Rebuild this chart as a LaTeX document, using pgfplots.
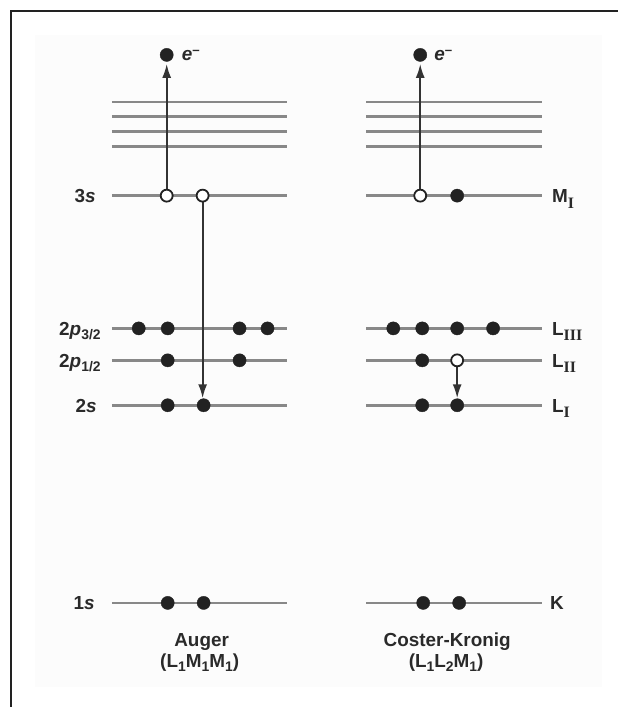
\documentclass[border=0pt]{standalone}
\usepackage{pgfplots}
\pgfplotsset{compat=1.18}
\usetikzlibrary{arrows.meta}
\usepackage{fontspec}
\setmainfont{Liberation Sans}
\newfontfamily\romfont{Liberation Serif}
\definecolor{lvl}{HTML}{888888}
\definecolor{ink}{HTML}{222222}
\definecolor{arr}{HTML}{333333}
\definecolor{txt}{HTML}{2A2A2A}
\newcommand\lab{\fontsize{19}{21}\selectfont\bfseries\color{txt}}
\newcommand\sub[1]{\raisebox{-0.4ex}{\fontsize{14}{14}\selectfont #1}}
\newcommand\rsub[1]{\raisebox{-0.55ex}{\romfont\fontsize{16}{16}\selectfont #1}}

\tikzset{
  level/.style={lvl, line width=2.6bp},
  dot/.style={only marks, mark=*, mark size=6.6bp, mark options={fill=ink, draw=ink}},
  hole/.style={only marks, mark=*, mark size=6bp, mark options={fill=white, draw=ink, line width=1.8bp}},
  jump/.style={arr, line width=1.9bp, -{Latex[length=14bp, width=9bp]}},
}

\begin{document}
\begin{tikzpicture}
\begin{axis}[
  scale only axis, width=619bp, height=708bp,
  xmin=0, xmax=619, ymin=0, ymax=708, y dir=reverse,
  hide axis, clip=false,
]
% page and frame
\addplot[draw=none, fill=white] coordinates {(0,0)(619,0)(619,708)(0,708)} --cycle;
\addplot[draw=none, fill=black!1.2] coordinates {(35,35)(603,35)(603,688)(35,688)} --cycle;
\addplot[ink, line width=2.6bp] coordinates {(619,11)(11,11)(11,708)};

% Auger (left)
\addplot[level] coordinates {(112,102)(288,102)};
\addplot[level] coordinates {(112,117)(288,117)};
\addplot[level] coordinates {(112,132)(288,132)};
\addplot[level] coordinates {(112,147)(288,147)};
\addplot[level] coordinates {(112,196)(288,196)};
\addplot[level] coordinates {(112,329)(288,329)};
\addplot[level] coordinates {(112,361)(288,361)};
\addplot[level] coordinates {(112,406)(288,406)};
\addplot[level] coordinates {(112,604)(288,604)};
\addplot[jump] coordinates {(167,196)(167,64)};
\addplot[jump] coordinates {(203,196)(203,399)};
\addplot[dot] coordinates {(167,55)};
\addplot[hole] coordinates {(167,196)(203,196)};
\addplot[dot] coordinates {(139,329)(168,329)(240,329)(268,329)};
\addplot[dot] coordinates {(168,361)(240,361)};
\addplot[dot] coordinates {(168,406)(204,406)};
\addplot[dot] coordinates {(168,604)(204,604)};

% Coster-Kronig (right)
\addplot[level] coordinates {(367,102)(543,102)};
\addplot[level] coordinates {(367,117)(543,117)};
\addplot[level] coordinates {(367,132)(543,132)};
\addplot[level] coordinates {(367,147)(543,147)};
\addplot[level] coordinates {(367,196)(543,196)};
\addplot[level] coordinates {(367,329)(543,329)};
\addplot[level] coordinates {(367,361)(543,361)};
\addplot[level] coordinates {(367,406)(543,406)};
\addplot[level] coordinates {(367,604)(543,604)};
\addplot[jump] coordinates {(421,196)(421,64)};
\addplot[jump] coordinates {(458,361)(458,399)};
\addplot[dot] coordinates {(421,55)};
\addplot[hole] coordinates {(421,196)};
\addplot[dot] coordinates {(458,196)};
\addplot[dot] coordinates {(394,329)(423,329)(458,329)(494,329)};
\addplot[dot] coordinates {(423,361)};
\addplot[hole] coordinates {(458,361)};
\addplot[dot] coordinates {(423,406)(458,406)};
\addplot[dot] coordinates {(424,604)(460,604)};

% labels
\node[anchor=base west, inner sep=0] at (axis cs:182,61) {\lab\textit{e}\textsuperscript{\textendash}};
\node[anchor=base west, inner sep=0] at (axis cs:435,61) {\lab\textit{e}\textsuperscript{\textendash}};
\node[anchor=base east, inner sep=0] at (axis cs:96,203) {\lab 3\textit{s}};
\node[anchor=base east, inner sep=0] at (axis cs:101,336) {\lab 2\textit{p}\sub{3/2}};
\node[anchor=base east, inner sep=0] at (axis cs:101,368) {\lab 2\textit{p}\sub{1/2}};
\node[anchor=base east, inner sep=0] at (axis cs:97,413) {\lab 2\textit{s}};
\node[anchor=base east, inner sep=0] at (axis cs:95,611) {\lab 1\textit{s}};
\node[anchor=base west, inner sep=0] at (axis cs:553,203) {\lab M\rsub{I}};
\node[anchor=base west, inner sep=0] at (axis cs:553,336) {\lab L\rsub{III}};
\node[anchor=base west, inner sep=0] at (axis cs:553,368) {\lab L\rsub{II}};
\node[anchor=base west, inner sep=0] at (axis cs:553,413) {\lab L\rsub{I}};
\node[anchor=base west, inner sep=0] at (axis cs:551,611) {\lab K};
\node[anchor=base, inner sep=0] at (axis cs:202,648) {\lab Auger};
\node[anchor=base, inner sep=0] at (axis cs:200,669) {\lab (L\sub{1}M\sub{1}M\sub{1})};
\node[anchor=base, inner sep=0] at (axis cs:448,648) {\lab Coster-Kronig};
\node[anchor=base, inner sep=0] at (axis cs:447,669) {\lab (L\sub{1}L\sub{2}M\sub{1})};
\end{axis}
\end{tikzpicture}
\end{document}
